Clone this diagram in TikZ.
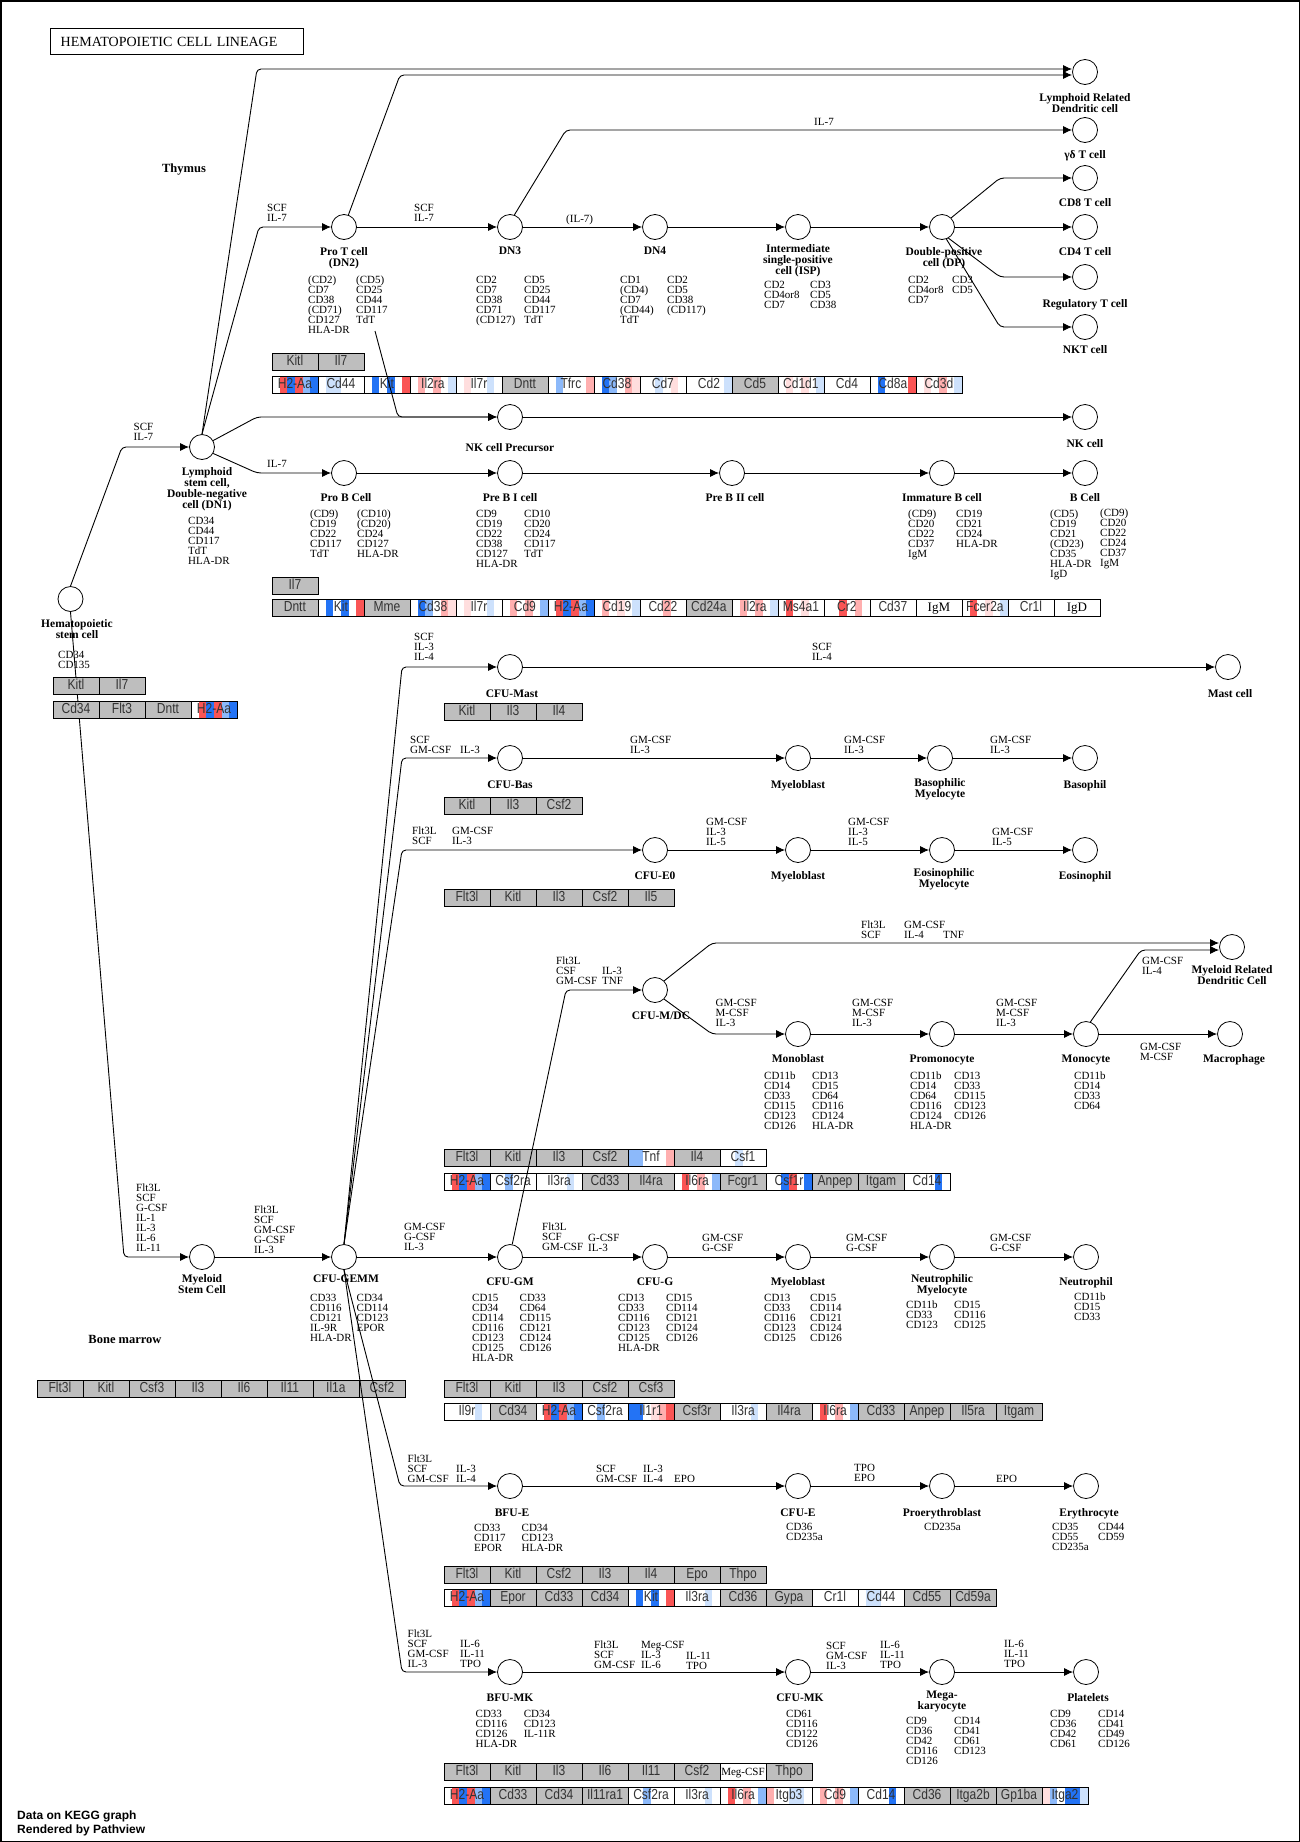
\documentclass[tikz,border=0pt]{standalone}
\usepackage{fontspec}
\setmainfont{Liberation Serif}
\setsansfont{Liberation Sans}
\newfontfamily\genefont[FakeStretch=0.83]{Liberation Sans}
\usetikzlibrary{positioning,arrows.meta}

\definecolor{cG}{RGB}{190,190,190}
\definecolor{cR}{RGB}{250,85,85}
\definecolor{cr}{RGB}{255,175,175}
\definecolor{crr}{RGB}{255,222,222}
\definecolor{cB}{RGB}{35,115,245}
\definecolor{cb}{RGB}{140,185,250}
\definecolor{cbb}{RGB}{205,225,252}

\tikzset{
  cell/.style={draw, circle, minimum size=25pt, inner sep=0pt, line width=0.8pt},
  cname/.style={font=\bfseries\fontsize{11.5}{11}\selectfont, align=center, inner sep=0pt},
  ck/.style={font=\fontsize{11}{10}\selectfont, align=left, inner sep=0pt, anchor=north west, yshift=4pt},
  zone/.style={font=\bfseries\fontsize{12.5}{13}\selectfont, inner sep=0pt},
  titlebox/.style={draw, line width=1.4pt, anchor=north west, minimum height=26pt, text width=233pt,
    inner xsep=10pt, inner ysep=0pt, align=left, font=\fontsize{14}{14}\selectfont},
  conn/.style={draw, line width=0.9pt, rounded corners=4pt, ->},
  gene/.style={draw, line width=0.8pt, fill=white, minimum width=46pt, minimum height=17pt, inner sep=0pt,
    anchor=north west, text height=10.5pt, text depth=2.5pt, font=\genefont\fontsize{14.5}{14.5}\selectfont,
    text=black!80},
  gy/.style={fill=cG},
  wt/.style={fill=white},
  wser/.style={fill=white, font=\rmfamily\fontsize{13}{13}\selectfont, text=black},
  wsm/.style={fill=white, font=\rmfamily\fontsize{11}{11}\selectfont, text=black},
  stripes/.style n args={6}{path picture={
    \foreach \c [count=\k from 0] in {#1,#2,#3,#4,#5,#6}
      \fill[\c] ([xshift={\k*7.6667pt}]path picture bounding box.north west)
        rectangle ([xshift={(\k+1)*7.6667pt}]path picture bounding box.south west);
  }},
  pH2Aa/.style={stripes={white}{cR}{cB}{cR}{cb}{cB}},
  pCd44/.style={stripes={white}{cbb}{cbb}{white}{white}{white}},
  pKit/.style={stripes={white}{cB}{white}{cB}{white}{cR}},
  pIl2ra/.style={stripes={white}{cr}{white}{cr}{white}{cbb}},
  pIl7r/.style={stripes={white}{crr}{white}{white}{cbb}{white}},
  pTfrc/.style={stripes={white}{cb}{white}{white}{white}{cr}},
  pCd38/.style={stripes={white}{cB}{cb}{white}{cr}{crr}},
  pCd7/.style={stripes={white}{white}{cbb}{white}{crr}{white}},
  pCd2/.style={stripes={white}{white}{white}{white}{white}{cbb}},
  pCd1d1/.style={stripes={white}{crr}{white}{crr}{white}{cbb}},
  pCd8a/.style={stripes={white}{cB}{white}{white}{white}{cR}},
  pCd3d/.style={stripes={white}{crr}{white}{cr}{white}{cbb}},
  pCd9/.style={stripes={white}{cr}{white}{cr}{white}{cb}},
  pCd19/.style={stripes={white}{cr}{white}{crr}{white}{cbb}},
  pCd22/.style={stripes={white}{white}{white}{cr}{white}{white}},
  pMs4a1/.style={stripes={white}{cR}{white}{crr}{white}{white}},
  pCr2/.style={stripes={white}{white}{cR}{white}{cr}{white}},
  pFcer2a/.style={stripes={white}{cR}{white}{crr}{white}{cbb}},
  pTnf/.style={stripes={cb}{cb}{white}{white}{white}{cr}},
  pCsf1/.style={stripes={white}{white}{cbb}{white}{white}{white}},
  pCsf2ra/.style={stripes={white}{white}{cb}{white}{white}{white}},
  pIl3ra/.style={stripes={white}{white}{white}{white}{cbb}{white}},
  pIl6ra/.style={stripes={white}{cR}{white}{cr}{white}{cb}},
  pCsf1r/.style={stripes={white}{white}{cB}{cR}{white}{cB}},
  pCd14/.style={stripes={white}{white}{white}{white}{cB}{white}},
  pIl1r1/.style={stripes={cB}{cB}{white}{crr}{cr}{cR}},
  pItgb3/.style={stripes={cr}{white}{white}{cbb}{cbb}{white}},
  pItga2/.style={stripes={crr}{cb}{white}{cB}{cB}{cbb}}
}

% rangée de gènes : nom, x, y, liste gène/style
\newcommand{\generow}[4]{%
  \foreach \g/\s [count=\i from 0] in {#4} {\node[gene,\s] (#1-\i) at ({#2+\i*46},#3) {\g};}%
}

\begin{document}
\begin{tikzpicture}[x=1pt,y=-1pt,>={Latex[length=9pt,width=8pt]}]
  \useasboundingbox (0,0) rectangle (1300,1842);
  % Cadre
  \draw[line width=1.5pt] (0.75,0.75) rectangle (1299.25,1841.25);
  \node[titlebox] (titre) at (50,28) {HEMATOPOIETIC CELL LINEAGE};
  \node[zone] (thymus) at (184,170) {Thymus};
  \node[zone] (moelle) at (125,1339) {Bone marrow};
  \node[font=\sffamily\bfseries\fontsize{12}{14}\selectfont, align=left, anchor=north west, inner sep=0pt]
    (source) at (17,1811) {Data on KEGG graph\\Rendered by Pathview};

  % Cellules
  \node[cell] (hsc) at (70.5,599) {};
  \node[cell] (lsc) at (202,447) {};
  \node[cell] (prot) at (344,227) {};
  \node[cell] (dn3) at (510,227) {};
  \node[cell] (dn4) at (655,227) {};
  \node[cell] (isp) at (798,227) {};
  \node[cell] (dp) at (942,227) {};
  \node[cell] (lrdc) at (1085,72) {};
  \node[cell] (gdt) at (1085,130) {};
  \node[cell] (cd8) at (1085,178) {};
  \node[cell] (cd4) at (1085,227) {};
  \node[cell] (treg) at (1085,277) {};
  \node[cell] (nkt) at (1085,327) {};
  \node[cell] (nkp) at (510,417) {};
  \node[cell] (nk) at (1085,417) {};
  \node[cell] (prob) at (344,473) {};
  \node[cell] (prebi) at (510,473) {};
  \node[cell] (prebii) at (732,473) {};
  \node[cell] (immb) at (942,473) {};
  \node[cell] (bcell) at (1085,473) {};
  \node[cell] (cfumast) at (510,667) {};
  \node[cell] (mast) at (1228,667) {};
  \node[cell] (cfubas) at (510,758) {};
  \node[cell] (myeb1) at (798,758) {};
  \node[cell] (basm) at (940,758) {};
  \node[cell] (baso) at (1085,758) {};
  \node[cell] (cfueo) at (655,850) {};
  \node[cell] (myeb2) at (798,850) {};
  \node[cell] (eosm) at (942,850) {};
  \node[cell] (eos) at (1085,850) {};
  \node[cell] (mrdc) at (1232,947) {};
  \node[cell] (cfumdc) at (655,990) {};
  \node[cell] (monob) at (798,1034) {};
  \node[cell] (promono) at (942,1034) {};
  \node[cell] (mono) at (1086,1034) {};
  \node[cell] (macro) at (1230,1034) {};
  \node[cell] (msc) at (202,1257) {};
  \node[cell] (gemm) at (344,1257) {};
  \node[cell] (cfugm) at (510,1257) {};
  \node[cell] (cfug) at (655,1257) {};
  \node[cell] (myeb3) at (798,1257) {};
  \node[cell] (neum) at (942,1257) {};
  \node[cell] (neut) at (1086,1257) {};
  \node[cell] (bfue) at (510,1486) {};
  \node[cell] (cfue) at (798,1486) {};
  \node[cell] (proery) at (942,1486) {};
  \node[cell] (ery) at (1086,1486) {};
  \node[cell] (bfumk) at (510,1672) {};
  \node[cell] (cfumk) at (798,1672) {};
  \node[cell] (mega) at (942,1672) {};
  \node[cell] (plat) at (1086,1672) {};

  % Noms des cellules
  \node[cname, below=7pt of hsc, xshift=6.5pt, font=\bfseries\fontsize{11.5}{10}\selectfont] (n-hsc) {Hematopoietic\\stem cell};
  \node[cname, below=7pt of lsc, xshift=5pt] (n-lsc) {Lymphoid\\stem cell,\\Double-negative\\cell (DN1)};
  \node[cname, below=7pt of prot] (n-prot) {Pro T cell\\(DN2)};
  \node[cname, below=7pt of dn3] (n-dn3) {DN3};
  \node[cname, below=7pt of dn4] (n-dn4) {DN4};
  \node[cname, below=4.5pt of isp] (n-isp) {Intermediate\\single-positive\\cell (ISP)};
  \node[cname, below=7pt of dp, xshift=2pt] (n-dp) {Double-positive\\cell (DP)};
  \node[cname, below=8pt of lrdc] (n-lrdc) {Lymphoid Related\\Dendritic cell};
  \node[cname, below=7pt of gdt] (n-gdt) {γδ T cell};
  \node[cname, below=7pt of cd8] (n-cd8) {CD8 T cell};
  \node[cname, below=7pt of cd4] (n-cd4) {CD4 T cell};
  \node[cname, below=9.5pt of treg] (n-treg) {Regulatory T cell};
  \node[cname, below=5.5pt of nkt] (n-nkt) {NKT cell};
  \node[cname, below=13.5pt of nkp] (n-nkp) {NK cell Precursor};
  \node[cname, below=9.5pt of nk] (n-nk) {NK cell};
  \node[cname, below=7.5pt of prob, xshift=2pt] (n-prob) {Pro B Cell};
  \node[cname, below=7.5pt of prebi] (n-prebi) {Pre B I cell};
  \node[cname, below=7.5pt of prebii, xshift=3pt] (n-prebii) {Pre B II cell};
  \node[cname, below=7.5pt of immb] (n-immb) {Immature B cell};
  \node[cname, below=7.5pt of bcell] (n-bcell) {B Cell};
  \node[cname, below=9.5pt of cfumast, xshift=2pt] (n-cfumast) {CFU-Mast};
  \node[cname, below=9.5pt of mast, xshift=2pt] (n-mast) {Mast cell};
  \node[cname, below=9.5pt of cfubas] (n-cfubas) {CFU-Bas};
  \node[cname, below=9.5pt of myeb1] (n-myeb1) {Myeloblast};
  \node[cname, below=7.5pt of basm] (n-basm) {Basophilic\\Myelocyte};
  \node[cname, below=9.5pt of baso] (n-baso) {Basophil};
  \node[cname, below=8.5pt of cfueo] (n-cfueo) {CFU-E0};
  \node[cname, below=8.5pt of myeb2] (n-myeb2) {Myeloblast};
  \node[cname, below=5.5pt of eosm, xshift=2pt] (n-eosm) {Eosinophilic\\Myelocyte};
  \node[cname, below=8.5pt of eos] (n-eos) {Eosinophil};
  \node[cname, below=5.5pt of mrdc] (n-mrdc) {Myeloid Related\\Dendritic Cell};
  \node[cname, below=8.5pt of cfumdc, xshift=6pt] (n-cfumdc) {CFU-M/DC};
  \node[cname, below=7.5pt of monob] (n-monob) {Monoblast};
  \node[cname, below=7.5pt of promono] (n-promono) {Promonocyte};
  \node[cname, below=7.5pt of mono] (n-mono) {Monocyte};
  \node[cname, below=7.5pt of macro, xshift=4pt] (n-macro) {Macrophage};
  \node[cname, below=4.5pt of msc] (n-msc) {Myeloid\\Stem Cell};
  \node[cname, below=4.5pt of gemm, xshift=2pt] (n-gemm) {CFU-GEMM};
  \node[cname, below=7.5pt of cfugm] (n-cfugm) {CFU-GM};
  \node[cname, below=7.5pt of cfug] (n-cfug) {CFU-G};
  \node[cname, below=7.5pt of myeb3] (n-myeb3) {Myeloblast};
  \node[cname, below=4.5pt of neum] (n-neum) {Neutrophilic\\Myelocyte};
  \node[cname, below=7.5pt of neut] (n-neut) {Neutrophil};
  \node[cname, below=9.5pt of bfue, xshift=2pt] (n-bfue) {BFU-E};
  \node[cname, below=9.5pt of cfue] (n-cfue) {CFU-E};
  \node[cname, below=9.5pt of proery] (n-proery) {Proerythroblast};
  \node[cname, below=9.5pt of ery, xshift=3pt] (n-ery) {Erythrocyte};
  \node[cname, below=8.5pt of bfumk] (n-bfumk) {BFU-MK};
  \node[cname, below=8.5pt of cfumk, xshift=2pt] (n-cfumk) {CFU-MK};
  \node[cname, below=5.5pt of mega] (n-mega) {Mega-\\karyocyte};
  \node[cname, below=8.5pt of plat, xshift=2pt] (n-plat) {Platelets};

  % Marqueurs CD
  \node[ck] (m-hsc) at (58,655) {CD34\\CD135};
  \node[ck] (m-lsc) at (188,521) {CD34\\CD44\\CD117\\TdT\\HLA-DR};
  \node[ck] (m-prot-a) at (308,280) {(CD2)\\CD7\\CD38\\(CD71)\\CD127\\HLA-DR};
  \node[ck] (m-prot-b) at (356,280) {(CD5)\\CD25\\CD44\\CD117\\TdT};
  \node[ck] (m-dn3-a) at (476,280) {CD2\\CD7\\CD38\\CD71\\(CD127)};
  \node[ck] (m-dn3-b) at (524,280) {CD5\\CD25\\CD44\\CD117\\TdT};
  \node[ck] (m-dn4-a) at (620,280) {CD1\\(CD4)\\CD7\\(CD44)\\TdT};
  \node[ck] (m-dn4-b) at (667,280) {CD2\\CD5\\CD38\\(CD117)};
  \node[ck] (m-isp-a) at (764,285) {CD2\\CD4or8\\CD7};
  \node[ck] (m-isp-b) at (810,285) {CD3\\CD5\\CD38};
  \node[ck] (m-dp-a) at (908,280) {CD2\\CD4or8\\CD7};
  \node[ck] (m-dp-b) at (952,280) {CD3\\CD5};
  \node[ck] (m-prob-a) at (310,514) {(CD9)\\CD19\\CD22\\CD117\\TdT};
  \node[ck] (m-prob-b) at (357,514) {(CD10)\\(CD20)\\CD24\\CD127\\HLA-DR};
  \node[ck] (m-prebi-a) at (476,514) {CD9\\CD19\\CD22\\CD38\\CD127\\HLA-DR};
  \node[ck] (m-prebi-b) at (524,514) {CD10\\CD20\\CD24\\CD117\\TdT};
  \node[ck] (m-immb-a) at (908,514) {(CD9)\\CD20\\CD22\\CD37\\IgM};
  \node[ck] (m-immb-b) at (956,514) {CD19\\CD21\\CD24\\HLA-DR};
  \node[ck] (m-bcell-a) at (1050,514) {(CD5)\\CD19\\CD21\\(CD23)\\CD35\\HLA-DR\\IgD};
  \node[ck] (m-bcell-b) at (1100,513) {(CD9)\\CD20\\CD22\\CD24\\CD37\\IgM};
  \node[ck] (m-monob-a) at (764,1076) {CD11b\\CD14\\CD33\\CD115\\CD123\\CD126};
  \node[ck] (m-monob-b) at (812,1076) {CD13\\CD15\\CD64\\CD116\\CD124\\HLA-DR};
  \node[ck] (m-promono-a) at (910,1076) {CD11b\\CD14\\CD64\\CD116\\CD124\\HLA-DR};
  \node[ck] (m-promono-b) at (954,1076) {CD13\\CD33\\CD115\\CD123\\CD126};
  \node[ck] (m-mono) at (1074,1076) {CD11b\\CD14\\CD33\\CD64};
  \node[ck] (m-gemm-a) at (310,1298) {CD33\\CD116\\CD121\\IL-9R\\HLA-DR};
  \node[ck] (m-gemm-b) at (356.5,1298) {CD34\\CD114\\CD123\\EPOR};
  \node[ck] (m-cfugm-a) at (472,1298) {CD15\\CD34\\CD114\\CD116\\CD123\\CD125\\HLA-DR};
  \node[ck] (m-cfugm-b) at (519.5,1298) {CD33\\CD64\\CD115\\CD121\\CD124\\CD126};
  \node[ck] (m-cfug-a) at (618,1298) {CD13\\CD33\\CD116\\CD123\\CD125\\HLA-DR};
  \node[ck] (m-cfug-b) at (666,1298) {CD15\\CD114\\CD121\\CD124\\CD126};
  \node[ck] (m-myeb3-a) at (764,1298) {CD13\\CD33\\CD116\\CD123\\CD125};
  \node[ck] (m-myeb3-b) at (810,1298) {CD15\\CD114\\CD121\\CD124\\CD126};
  \node[ck] (m-neum-a) at (906,1305) {CD11b\\CD33\\CD123};
  \node[ck] (m-neum-b) at (954,1305) {CD15\\CD116\\CD125};
  \node[ck] (m-neut) at (1074,1297) {CD11b\\CD15\\CD33};
  \node[ck] (m-bfue-a) at (474,1528) {CD33\\CD117\\EPOR};
  \node[ck] (m-bfue-b) at (521.5,1528) {CD34\\CD123\\HLA-DR};
  \node[ck] (m-cfue) at (786,1527) {CD36\\CD235a};
  \node[ck] (m-proery) at (924,1527) {CD235a};
  \node[ck] (m-ery-a) at (1052,1527) {CD35\\CD55\\CD235a};
  \node[ck] (m-ery-b) at (1098,1527) {CD44\\CD59};
  \node[ck] (m-bfumk-a) at (475.5,1714) {CD33\\CD116\\CD126\\HLA-DR};
  \node[ck] (m-bfumk-b) at (523.6,1714) {CD34\\CD123\\IL-11R};
  \node[ck] (m-cfumk) at (786,1714) {CD61\\CD116\\CD122\\CD126};
  \node[ck] (m-mega-a) at (906,1721) {CD9\\CD36\\CD42\\CD116\\CD126};
  \node[ck] (m-mega-b) at (954,1721) {CD14\\CD41\\CD61\\CD123};
  \node[ck] (m-plat-a) at (1050,1714) {CD9\\CD36\\CD42\\CD61};
  \node[ck] (m-plat-b) at (1098,1714) {CD14\\CD41\\CD49\\CD126};

  % Cytokines
  \node[ck] (k-hl) at (133.5,427) {SCF\\IL-7};
  \node[ck] (k-lp) at (267,208) {SCF\\IL-7};
  \node[ck] (k-pd) at (414,208) {SCF\\IL-7};
  \node[ck] (k-dd) at (566,219) {(IL-7)};
  \node[ck] (k-dg) at (814,122) {IL-7};
  \node[ck] (k-lb) at (267,464) {IL-7};
  \node[ck] (k-gma) at (414,637) {SCF\\IL-3\\IL-4};
  \node[ck] (k-ma) at (812,647) {SCF\\IL-4};
  \node[ck] (k-gba) at (410,740) {SCF\\GM-CSF};
  \node[ck] (k-gbb) at (460,750) {IL-3};
  \node[ck] (k-b1) at (630,740) {GM-CSF\\IL-3};
  \node[ck] (k-b2) at (844,740) {GM-CSF\\IL-3};
  \node[ck] (k-b3) at (990,740) {GM-CSF\\IL-3};
  \node[ck] (k-gea) at (412,831) {Flt3L\\SCF};
  \node[ck] (k-geb) at (452,831) {GM-CSF\\IL-3};
  \node[ck] (k-e1) at (706,822) {GM-CSF\\IL-3\\IL-5};
  \node[ck] (k-e2) at (848,822) {GM-CSF\\IL-3\\IL-5};
  \node[ck] (k-e3) at (992,832) {GM-CSF\\IL-5};
  \node[ck] (k-dca) at (861,925) {Flt3L\\SCF};
  \node[ck] (k-dcb) at (904,925) {GM-CSF\\IL-4};
  \node[ck] (k-dcc) at (943,935) {TNF};
  \node[ck] (k-gda) at (556,961) {Flt3L\\CSF\\GM-CSF};
  \node[ck] (k-gdb) at (602,971) {IL-3\\TNF};
  \node[ck] (k-mo1) at (715.5,1003) {GM-CSF\\M-CSF\\IL-3};
  \node[ck] (k-mo2) at (852,1003) {GM-CSF\\M-CSF\\IL-3};
  \node[ck] (k-mo3) at (996,1003) {GM-CSF\\M-CSF\\IL-3};
  \node[ck] (k-mo4) at (1142,961) {GM-CSF\\IL-4};
  \node[ck] (k-mo5) at (1140,1047) {GM-CSF\\M-CSF};
  \node[ck] (k-hm) at (136,1188) {Flt3L\\SCF\\G-CSF\\IL-1\\IL-3\\IL-6\\IL-11};
  \node[ck] (k-mg) at (254,1210) {Flt3L\\SCF\\GM-CSF\\G-CSF\\IL-3};
  \node[ck] (k-ggm) at (404,1227) {GM-CSF\\G-CSF\\IL-3};
  \node[ck] (k-gga) at (542,1227) {Flt3L\\SCF\\GM-CSF};
  \node[ck] (k-ggb) at (588,1238) {G-CSF\\IL-3};
  \node[ck] (k-n1) at (702,1238) {GM-CSF\\G-CSF};
  \node[ck] (k-n2) at (846,1238) {GM-CSF\\G-CSF};
  \node[ck] (k-n3) at (990,1238) {GM-CSF\\G-CSF};
  \node[ck] (k-gra) at (407.5,1459) {Flt3L\\SCF\\GM-CSF};
  \node[ck] (k-grb) at (456,1469) {IL-3\\IL-4};
  \node[ck] (k-r1a) at (596,1469) {SCF\\GM-CSF};
  \node[ck] (k-r1b) at (643,1469) {IL-3\\IL-4};
  \node[ck] (k-r1c) at (674,1479) {EPO};
  \node[ck] (k-r2) at (854,1468) {TPO\\EPO};
  \node[ck] (k-r3) at (996,1479) {EPO};
  \node[ck] (k-gka) at (407.5,1634) {Flt3L\\SCF\\GM-CSF\\IL-3};
  \node[ck] (k-gkb) at (460,1644) {IL-6\\IL-11\\TPO};
  \node[ck] (k-k1a) at (594,1645) {Flt3L\\SCF\\GM-CSF};
  \node[ck] (k-k1b) at (641,1645) {Meg-CSF\\IL-3\\IL-6};
  \node[ck] (k-k1c) at (686,1656) {IL-11\\TPO};
  \node[ck] (k-k2a) at (826,1646) {SCF\\GM-CSF\\IL-3};
  \node[ck] (k-k2b) at (880,1645) {IL-6\\IL-11\\TPO};
  \node[ck] (k-k3) at (1004,1644) {IL-6\\IL-11\\TPO};

  % Lien souche -> myéloïde (sous les gènes)
  \coordinate (c-hm) at (124,1257);
  \draw[conn] (hsc.south) -- (c-hm) -- (msc.west);

  % Gènes
  \generow{r1}{271.5}{353}{Kitl/gy, Il7/gy}
  \generow{r2}{271.5}{376}{H2-Aa/pH2Aa, Cd44/pCd44, Kit/pKit, Il2ra/pIl2ra, Il7r/pIl7r, Dntt/gy, Tfrc/pTfrc,
    Cd38/pCd38, Cd7/pCd7, Cd2/pCd2, Cd5/gy, Cd1d1/pCd1d1, Cd4/wt, Cd8a/pCd8a, Cd3d/pCd3d}
  \generow{r3}{52.6}{677}{Kitl/gy, Il7/gy}
  \generow{r4}{52.6}{701}{Cd34/gy, Flt3/gy, Dntt/gy, H2-Aa/pH2Aa}
  \generow{r5}{271.5}{577}{Il7/gy}
  \generow{r6}{271.5}{599}{Dntt/gy, Kit/pKit, Mme/gy, Cd38/pCd38, Il7r/pIl7r, Cd9/pCd9, H2-Aa/pH2Aa,
    Cd19/pCd19, Cd22/pCd22, Cd24a/gy, Il2ra/pIl2ra, Ms4a1/pMs4a1, Cr2/pCr2, Cd37/wt, IgM/wser,
    Fcer2a/pFcer2a, Cr1l/wt, IgD/wser}
  \generow{r7}{443.6}{703}{Kitl/gy, Il3/gy, Il4/gy}
  \generow{r8}{443.6}{797}{Kitl/gy, Il3/gy, Csf2/gy}
  \generow{r9}{443.6}{889}{Flt3l/gy, Kitl/gy, Il3/gy, Csf2/gy, Il5/gy}
  \generow{r10}{443.6}{1149}{Flt3l/gy, Kitl/gy, Il3/gy, Csf2/gy, Tnf/pTnf, Il4/gy, Csf1/pCsf1}
  \generow{r11}{443.6}{1173}{H2-Aa/pH2Aa, Csf2ra/pCsf2ra, Il3ra/pIl3ra, Cd33/gy, Il4ra/gy, Il6ra/pIl6ra,
    Fcgr1/gy, Csf1r/pCsf1r, Anpep/gy, Itgam/gy, Cd14/pCd14}
  \generow{r12}{36.5}{1380}{Flt3l/gy, Kitl/gy, Csf3/gy, Il3/gy, Il6/gy, Il11/gy, Il1a/gy, Csf2/gy}
  \generow{r13}{443.6}{1380}{Flt3l/gy, Kitl/gy, Il3/gy, Csf2/gy, Csf3/gy}
  \generow{r14}{443.6}{1403}{Il9r/pIl3ra, Cd34/gy, H2-Aa/pH2Aa, Csf2ra/pCsf2ra, Il1r1/pIl1r1, Csf3r/gy,
    Il3ra/pIl3ra, Il4ra/gy, Il6ra/pIl6ra, Cd33/gy, Anpep/gy, Il5ra/gy, Itgam/gy}
  \generow{r15}{443.6}{1566}{Flt3l/gy, Kitl/gy, Csf2/gy, Il3/gy, Il4/gy, Epo/gy, Thpo/gy}
  \generow{r16}{443.6}{1589}{H2-Aa/pH2Aa, Epor/gy, Cd33/gy, Cd34/gy, Kit/pKit, Il3ra/pIl3ra, Cd36/gy,
    Gypa/gy, Cr1l/wt, Cd44/pCd44, Cd55/gy, Cd59a/gy}
  \generow{r17}{443.6}{1763}{Flt3l/gy, Kitl/gy, Il3/gy, Il6/gy, Il11/gy, Csf2/gy, Meg-CSF/wsm, Thpo/gy}
  \generow{r18}{443.6}{1787}{H2-Aa/pH2Aa, Cd33/gy, Cd34/gy, Il11ra1/gy, Csf2ra/pCsf2ra, Il3ra/pIl3ra,
    Il6ra/pIl6ra, Itgb3/pItgb3, Cd9/pCd9, Cd14/pCd14, Cd36/gy, Itga2b/gy, Gp1ba/gy, Itga2/pItga2}

  % Lignée lymphoïde
  \coordinate (c-hl) at (122,447);
  \coordinate (c-l1) at (257,69);
  \coordinate (c-l2) at (259,227);
  \coordinate (c-l3) at (257,417);
  \coordinate (c-l4) at (257,473);
  \coordinate (c-p1) at (400,75);
  \coordinate (c-d1) at (566,130);
  \coordinate (c-dp1) at (1000,178);
  \coordinate (c-dp2) at (1000,277);
  \coordinate (c-dp3) at (1000,327);
  \coordinate (c-t0) at (375,331);
  \coordinate (c-t1) at (398,417);
  \draw[conn] (hsc.north) -- (c-hl) -- (lsc.west);
  \draw[conn] (lsc.north) -- (c-l1) -- (c-l1 -| lrdc.west);
  \draw[conn] (lsc.north) -- (c-l2) -- (prot.west);
  \draw[conn] (lsc.30) -- (c-l3) -- (nkp.west);
  \draw[conn] (lsc.-30) -- (c-l4) -- (prob.west);
  \draw[conn] (prot.70) -- (c-p1) -- (c-p1 -| lrdc.west);
  \draw[conn] (dn3.70) -- (c-d1) -- (gdt.west);
  \draw[conn] (dp.45) -- (c-dp1) -- (cd8.west);
  \draw[conn] (dp.-60) -- (c-dp2) -- (treg.west);
  \draw[conn] (dp.-70) -- (c-dp3) -- (nkt.west);
  \draw[conn] (c-t0) -- (c-t1) -- (nkp.west);

  % Lignée myéloïde
  \coordinate (c-g1) at (402,667);
  \coordinate (c-g2) at (402,758);
  \coordinate (c-g3) at (402,850);
  \coordinate (c-g4) at (400,1486);
  \coordinate (c-g5) at (402,1672);
  \coordinate (c-m1) at (566,990);
  \coordinate (c-m2) at (712,943);
  \coordinate (c-m3) at (712,1034);
  \coordinate (c-m4) at (1141,950);
  \draw[conn] (gemm.north) -- (c-g1) -- (cfumast.west);
  \draw[conn] (gemm.north) -- (c-g2) -- (cfubas.west);
  \draw[conn] (gemm.north) -- (c-g3) -- (cfueo.west);
  \draw[conn] (gemm.south) -- (c-g4) -- (bfue.west);
  \draw[conn] (gemm.south) -- (c-g5) -- (bfumk.west);
  \draw[conn] (cfugm.80) -- (c-m1) -- (cfumdc.west);
  \draw[conn] (cfumdc.45) -- (c-m2) -- (c-m2 -| mrdc.west);
  \draw[conn] (cfumdc.-45) -- (c-m3) -- (monob.west);
  \draw[conn] (mono.70) -- (c-m4) -- (c-m4 -| mrdc.west);

  % Liens directs
  \foreach \a/\b in {prot/dn3, dn3/dn4, dn4/isp, isp/dp, dp/cd4, nkp/nk, prob/prebi, prebi/prebii,
      prebii/immb, immb/bcell, cfumast/mast, cfubas/myeb1, myeb1/basm, basm/baso, cfueo/myeb2,
      myeb2/eosm, eosm/eos, monob/promono, promono/mono, mono/macro, msc/gemm, gemm/cfugm,
      cfugm/cfug, cfug/myeb3, myeb3/neum, neum/neut, bfue/cfue, cfue/proery, proery/ery,
      bfumk/cfumk, cfumk/mega, mega/plat}
    \draw[conn] (\a) -- (\b);
\end{tikzpicture}
\end{document}
